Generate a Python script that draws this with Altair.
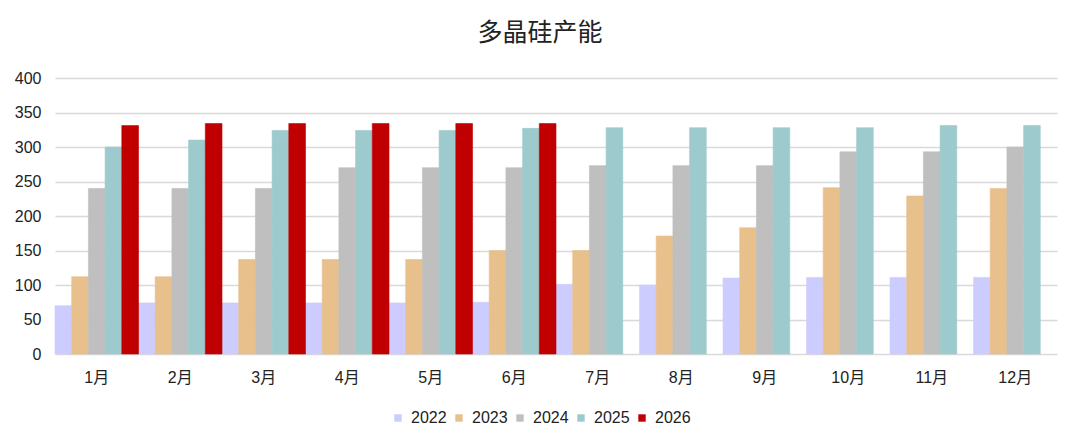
import altair as alt
import pandas as pd

months = ["1月", "2月", "3月", "4月", "5月", "6月", "7月", "8月", "9月", "10月", "11月", "12月"]
years = ["2022", "2023", "2024", "2025", "2026"]
v2022 = [70, 74, 74, 74, 74, 75, 101, 100, 110, 111, 111, 111]
v2023 = [112, 112, 137, 137, 137, 150, 150, 171, 183, 241, 229, 240]
v2024 = [240, 240, 240, 270, 270, 270, 273, 273, 273, 293, 293, 300]
v2025 = [300, 310, 324, 324, 324, 327, 328, 328, 328, 328, 331, 331]
v2026 = [331, 334, 334, 334, 334, 334]
colors = ["#CCCCFF", "#E8C08B", "#BFBFBF", "#9DCACD", "#C00000"]

rows = []
for yr, vals in zip(years, [v2022, v2023, v2024, v2025, v2026]):
    for m, v in zip(months, vals):
        rows.append({"month": m, "year": yr, "value": v})
df = pd.DataFrame(rows)

FONT = "Liberation Sans, Noto Sans CJK SC, sans-serif"
cscale = alt.Scale(domain=years, range=colors)

chart = alt.Chart(df).mark_bar(strokeWidth=0.6).encode(
    x=alt.X("month:N", sort=months,
            scale=alt.Scale(paddingInner=0, paddingOuter=0),
            axis=alt.Axis(title=None, labelAngle=0, ticks=False, domain=False,
                          labelFontSize=16, labelPadding=15, labelColor="#222",
                          labelFont=FONT)),
    xOffset=alt.XOffset("year:N", sort=years,
                        scale=alt.Scale(paddingInner=0, paddingOuter=0)),
    y=alt.Y("value:Q", scale=alt.Scale(domain=[0, 400]),
            axis=alt.Axis(title=None, values=[0, 50, 100, 150, 200, 250, 300, 350, 400],
                          domain=False, ticks=False, gridColor="#D9D9D9", gridWidth=1.5,
                          labelFontSize=16, labelPadding=14, labelColor="#222",
                          labelFont=FONT)),
    stroke=alt.Stroke("year:N", sort=years, scale=cscale, legend=None),
    color=alt.Color("year:N", sort=years, scale=cscale,
                    legend=alt.Legend(title=None, orient="none", direction="horizontal",
                                      legendX=335, legendY=332,
                                      symbolType="square", symbolSize=55,
                                      symbolStrokeWidth=0, labelFontSize=16,
                                      labelFont=FONT, labelColor="#222",
                                      labelOffset=5, columnPadding=4)),
).properties(
    width=1002,
    height=276,
    padding={"left": 47, "top": 70, "right": 15, "bottom": 80},
    autosize=alt.AutoSizeParams(type="none"),
    title=alt.TitleParams("多晶硅产能", fontSize=25, font="Noto Sans CJK SC",
                          fontWeight="normal", color="#222", anchor="middle",
                          offset=24, dx=-16),
).configure_view(stroke=None)

chart.save("out.html", embed_options={"renderer": "svg", "actions": False})
